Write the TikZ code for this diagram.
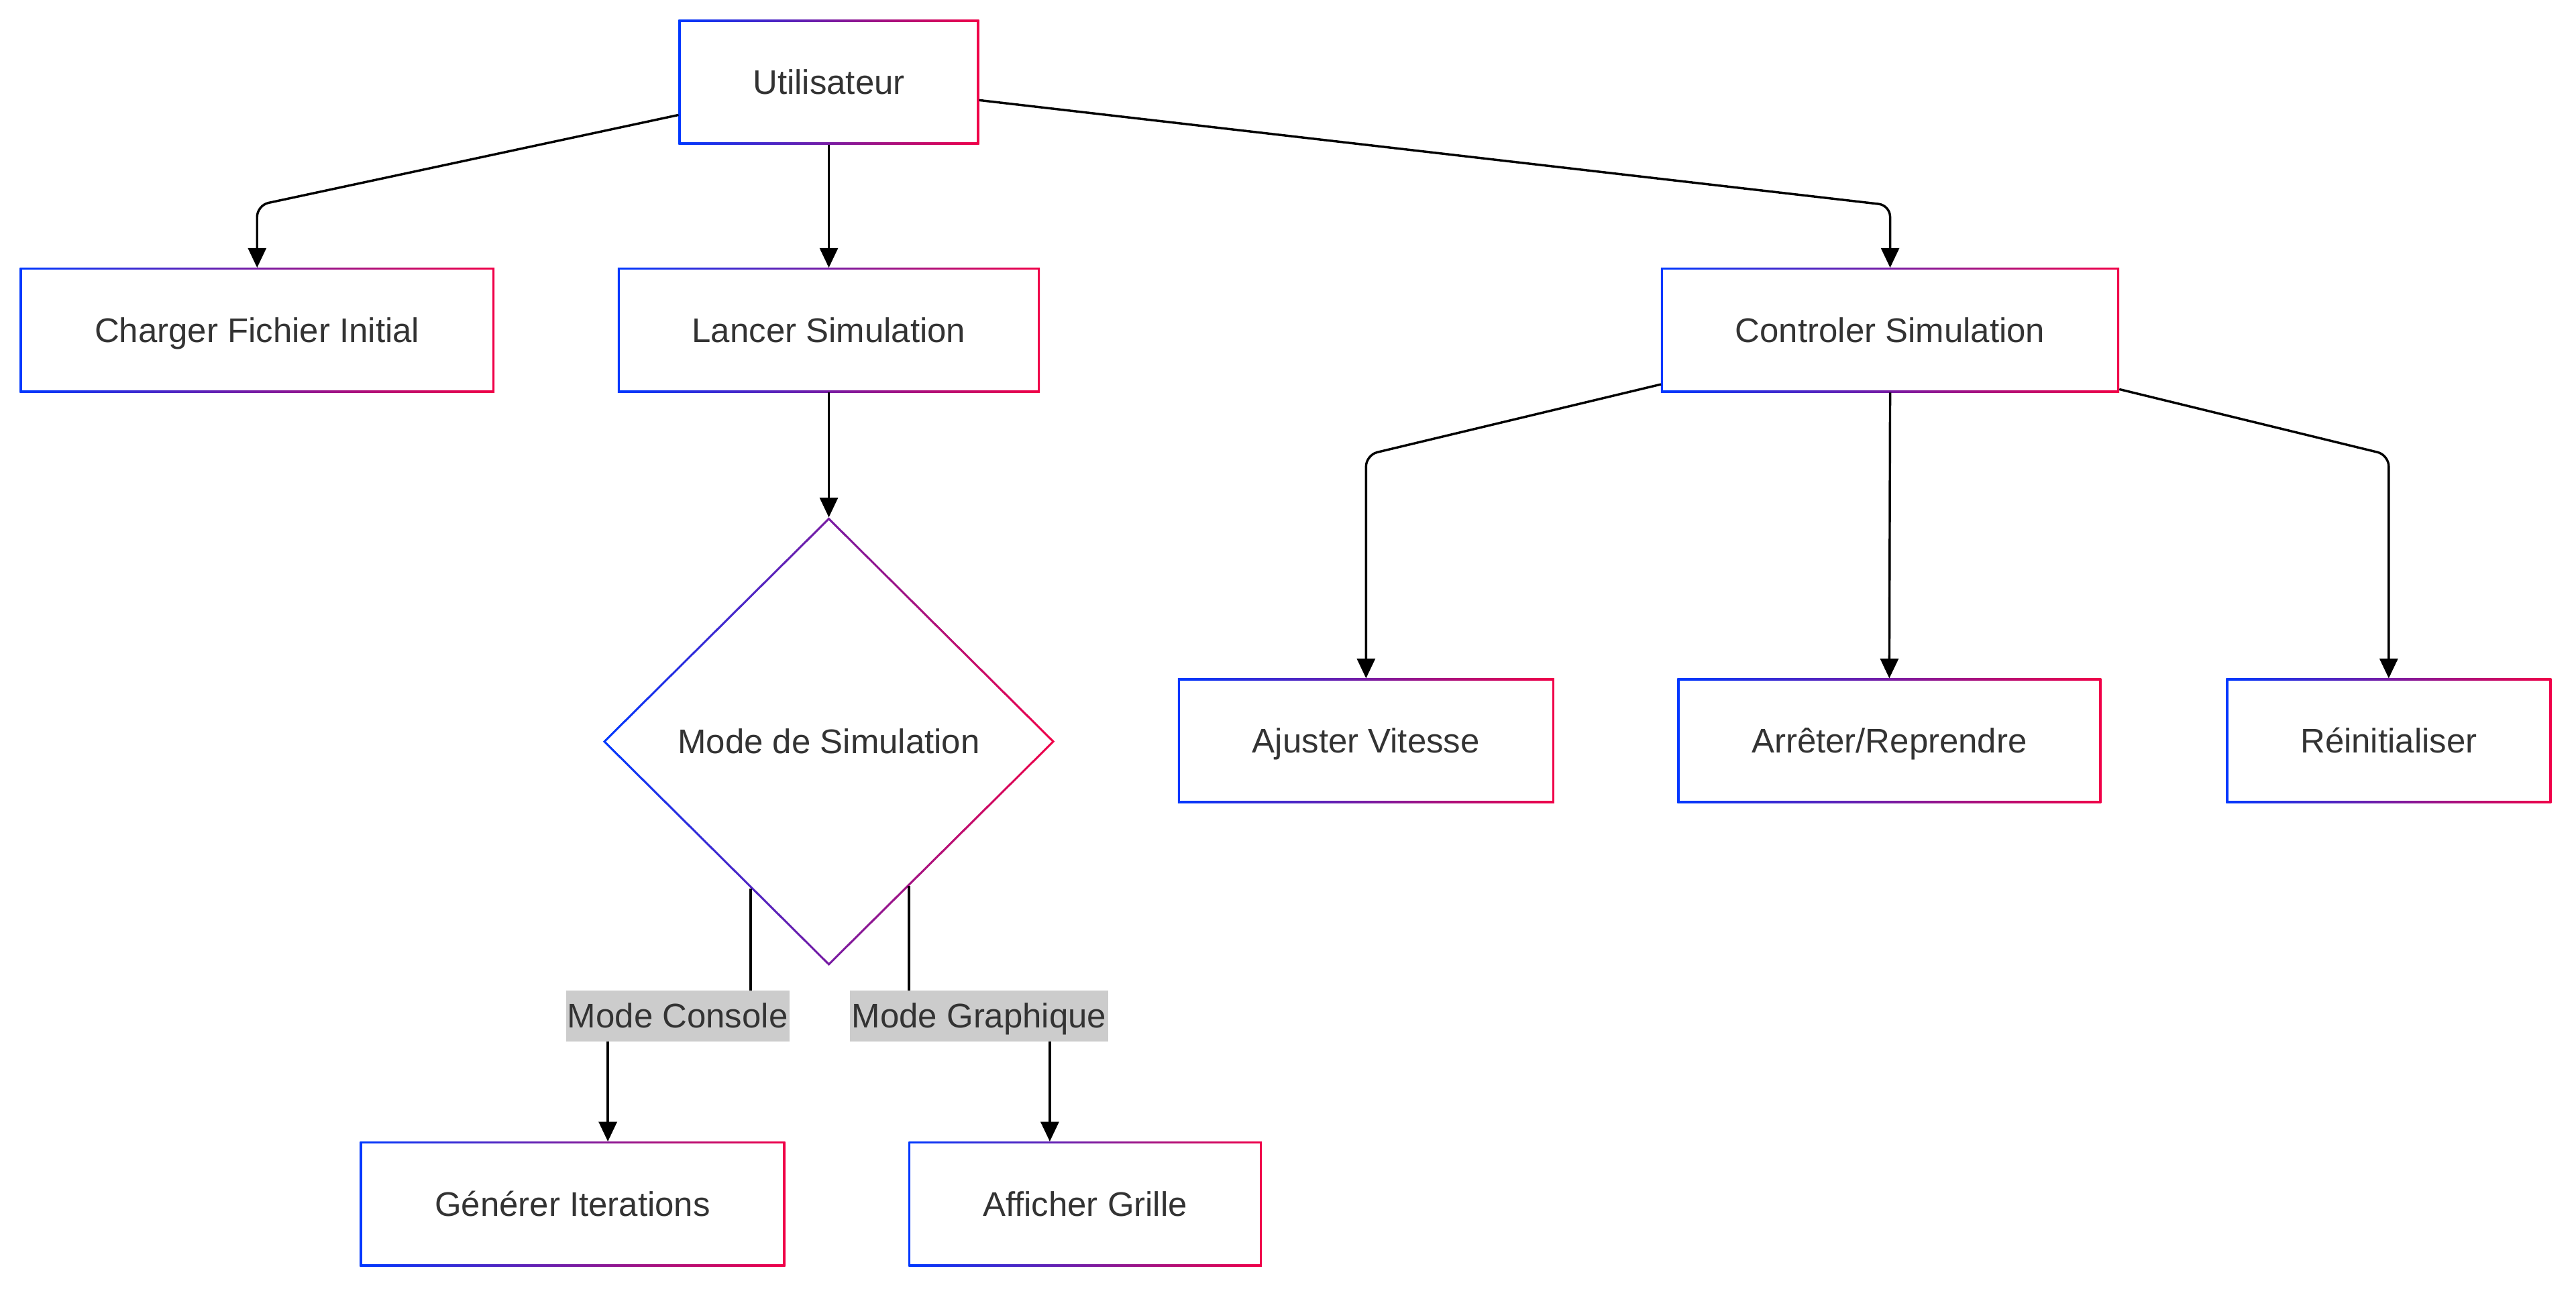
\documentclass[tikz,border=0pt]{standalone}
\usepackage{fontspec}
\setmainfont{Liberation Sans}
\usetikzlibrary{arrows.meta,shapes.geometric,backgrounds}
\definecolor{gblue}{RGB}{0,56,255}
\definecolor{gred}{RGB}{240,0,72}
\definecolor{txt}{RGB}{51,51,51}
\definecolor{lblbg}{RGB}{204,204,204}
\tikzset{
  gbox/.style 2 args={rectangle, inner sep=0pt, outer sep=0pt,
    minimum width=#1, minimum height=#2,
    left color=gblue, right color=gred, text=txt,
    font=\fontsize{20.8}{25}\selectfont, text height=14.9pt, text depth=0pt,
    path picture={\fill[white] ([shift={(1.3pt,1.3pt)}]path picture bounding box.south west)
      rectangle ([shift={(-1.3pt,-1.3pt)}]path picture bounding box.north east);}},
  gdiam/.style={diamond, inner sep=0pt, outer sep=0pt,
    minimum width=275pt, minimum height=273pt,
    left color=gblue, right color=gred, text=txt,
    font=\fontsize{20.8}{25}\selectfont, text height=14.9pt, text depth=0pt,
    path picture={\fill[white] ([yshift=-1.85pt]path picture bounding box.north)
      -- ([xshift=-1.85pt]path picture bounding box.east)
      -- ([yshift=1.85pt]path picture bounding box.south)
      -- ([xshift=1.85pt]path picture bounding box.west) -- cycle;}},
  arr/.style={line width=1.4pt, black, -{Triangle[length=12pt,width=11pt]}},
  lbl/.style={fill=lblbg, text=txt, inner xsep=1pt, inner ysep=0pt,
    minimum height=31pt, font=\fontsize{20.8}{25}\selectfont,
    text height=14.9pt, text depth=0pt},
  shadowfill/.style={fill=black, opacity=0.10}
}
\begin{document}
\begin{tikzpicture}[x=1pt,y=-1pt]
\useasboundingbox[fill=white] (0,0) rectangle (1568,786);

\node[gbox={183pt}{76pt}] (U) at (504.5,50) {Utilisateur};
\node[gbox={289pt}{76pt}] (C) at (156.5,201) {Charger Fichier Initial};
\node[gbox={257pt}{76pt}] (L) at (504.5,201) {Lancer Simulation};
\node[gbox={279pt}{76pt}] (Ct) at (1150.5,201) {Controler Simulation};
\node[gdiam] (M) at (504.5,451.5) {Mode de Simulation};
\node[gbox={229pt}{76pt}] (Aj) at (831.5,451) {Ajuster Vitesse};
\node[gbox={258pt}{76pt}] (Ar) at (1150,451) {Arrêter/Reprendre};
\node[gbox={198pt}{76pt}] (R) at (1454,451) {Réinitialiser};
\node[gbox={259pt}{76pt}] (G) at (348.5,733) {Générer Iterations};
\node[gbox={215pt}{76pt}] (A) at (660.5,733) {Afficher Grille};

\begin{scope}[on background layer]
  \foreach \n in {U,C,L,Ct,Aj,Ar,R,G,A}{
    \fill[shadowfill] ([shift={(0.5pt,-3pt)}]\n.south west) rectangle ([shift={(0.5pt,-3pt)}]\n.north east);
  }
  \fill[shadowfill] ([shift={(0.5pt,-3pt)}]M.north) -- ([shift={(0.5pt,-3pt)}]M.east)
     -- ([shift={(0.5pt,-3pt)}]M.south) -- ([shift={(0.5pt,-3pt)}]M.west) -- cycle;
\end{scope}

\draw[arr, rounded corners=7pt] ([yshift=-20pt]U.west) -- ([yshift=38pt]C.north) -- (C.north);
\draw[arr] (U.south) -- (L.north);
\draw[arr, rounded corners=7pt] ([yshift=-11pt]U.east) -- ([yshift=38pt]Ct.north) -- (Ct.north);
\draw[arr] (L.south) -- (M.north);
\draw[arr, rounded corners=7pt] ([yshift=-33pt]Ct.west) -- ([yshift=136pt]Aj.north) -- (Aj.north);
\draw[arr] (Ct.south) -- (Ar.north);
\draw[arr, rounded corners=7pt] ([yshift=-36pt]Ct.east) -- ([yshift=136pt]R.north) -- (R.north);

\draw[arr] (M.-118.7) -- ++(0,78) -| ([xshift=21.5pt]G.north);
\draw[arr] (M.-61.1) -- ++(0,78) -| ([xshift=-21.5pt]A.north);

\node[lbl] (lc) at (412.5,618.5) {Mode Console};
\node[lbl] (lg) at (596,618.5) {Mode Graphique};
\end{tikzpicture}
\end{document}
